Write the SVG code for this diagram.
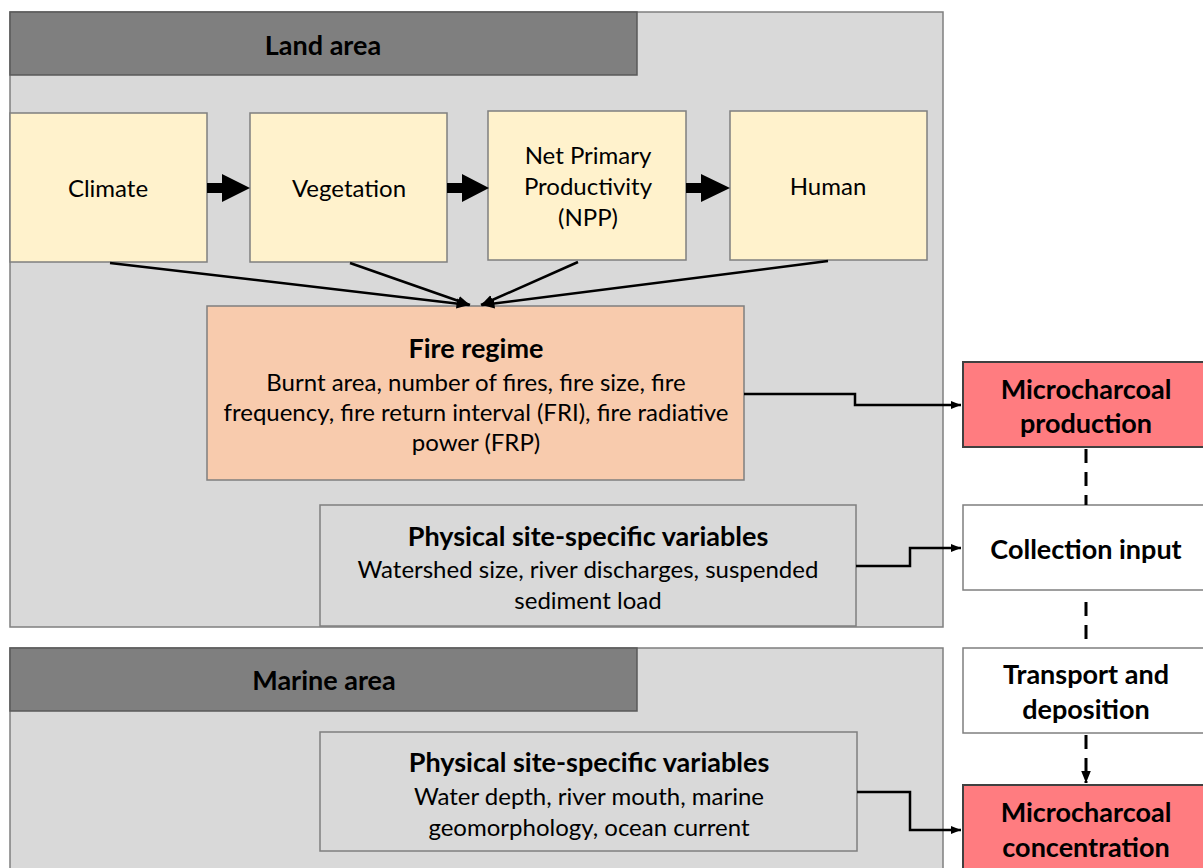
<svg xmlns="http://www.w3.org/2000/svg" width="1203" height="868" viewBox="0 0 1203 868">
<style>
text{font-family:Lato,"Open Sans","Liberation Sans",sans-serif;fill:#000;text-anchor:middle}
.panel{fill:#d9d9d9;stroke:#7f7f7f;stroke-width:1.5}
.head{fill:#7f7f7f;stroke:#595959;stroke-width:1.5}
.yel{fill:#fff2cc;stroke:#7f7f7f;stroke-width:1.5}
.fire{fill:#f8cbad;stroke:#7f7f7f;stroke-width:1.5}
.grey{fill:#d9d9d9;stroke:#7f7f7f;stroke-width:1.5}
.red{fill:#ff7c80;stroke:#404040;stroke-width:2}
.wht{fill:#ffffff;stroke:#7f7f7f;stroke-width:1.5}
.t{font-size:24px}
.b{font-size:27px;font-weight:bold}
.h{font-size:27px;font-weight:bold}
.c{fill:none;stroke:#000;stroke-width:2.5}
.d{fill:none;stroke:#000;stroke-width:3;stroke-dasharray:14 9}
</style>
<defs>
<marker id="ah" viewBox="0 0 10 10" refX="10" refY="5" markerWidth="5" markerHeight="5" orient="auto" markerUnits="strokeWidth">
<path d="M0,1 L10,5 L0,9 z" fill="#000"/>
</marker>
<marker id="ah2" viewBox="0 0 10 10" refX="10" refY="5" markerWidth="4" markerHeight="4" orient="auto" markerUnits="strokeWidth">
<path d="M0,1 L10,5 L0,9 z" fill="#000"/>
</marker>
</defs>

<g id="land-area">
<rect class="panel" x="10" y="12" width="933" height="615"/>
<rect class="head" x="10" y="12" width="627" height="63"/>
<text class="h" x="323" y="55">Land area</text>
</g>

<g id="marine-area">
<rect class="panel" x="10" y="648" width="933" height="230"/>
<rect class="head" x="10" y="648" width="627" height="63"/>
<text class="h" x="324" y="690">Marine area</text>
</g>

<g id="climate">
<rect class="yel" x="10" y="113" width="197" height="149"/>
<text class="t" x="108" y="197">Climate</text>
</g>
<g id="vegetation">
<rect class="yel" x="250" y="113" width="197" height="149"/>
<text class="t" x="349" y="197">Vegetation</text>
</g>
<g id="npp">
<rect class="yel" x="488" y="111" width="198" height="149"/>
<text class="t" x="588" y="164">Net Primary</text>
<text class="t" x="588" y="195">Productivity</text>
<text class="t" x="588" y="226">(NPP)</text>
</g>
<g id="human">
<rect class="yel" x="730" y="111" width="197" height="149"/>
<text class="t" x="828" y="195">Human</text>
</g>

<g id="fire-regime">
<rect class="fire" x="207" y="306" width="537" height="174"/>
<text class="b" x="476" y="358">Fire regime</text>
<text class="t" x="476" y="391">Burnt area, number of fires, fire size, fire</text>
<text class="t" x="476" y="421">frequency, fire return interval (FRI), fire radiative</text>
<text class="t" x="476" y="451">power (FRP)</text>
</g>

<g id="land-physical">
<rect class="grey" x="320" y="505" width="536" height="121"/>
<text class="b" x="588" y="546">Physical site-specific variables</text>
<text class="t" x="588" y="578">Watershed size, river discharges, suspended</text>
<text class="t" x="588" y="609">sediment load</text>
</g>

<g id="marine-physical">
<rect class="grey" x="320" y="732" width="537" height="119"/>
<text class="b" x="589" y="772">Physical site-specific variables</text>
<text class="t" x="589" y="805">Water depth, river mouth, marine</text>
<text class="t" x="589" y="836">geomorphology, ocean current</text>
</g>

<g id="microcharcoal-production">
<rect class="red" x="963" y="362" width="245" height="85"/>
<text class="b" x="1086" y="399">Microcharcoal</text>
<text class="b" x="1086" y="433">production</text>
</g>

<g id="collection-input">
<rect class="wht" x="963" y="505" width="245" height="85"/>
<text class="b" x="1086" y="559">Collection input</text>
</g>

<g id="transport-deposition">
<rect class="wht" x="963" y="648" width="245" height="85"/>
<text class="b" x="1086" y="684">Transport and</text>
<text class="b" x="1086" y="719">deposition</text>
</g>

<g id="microcharcoal-concentration">
<rect class="red" x="963" y="785" width="245" height="95"/>
<text class="b" x="1086" y="822">Microcharcoal</text>
<text class="b" x="1086" y="857">concentration</text>
</g>

<g id="connectors">
<path d="M207,183 H222 V174 L250,188 L222,202 V193 H207 z" fill="#000"/>
<path d="M447,183 H462 V174 L489,188 L462,202 V193 H447 z" fill="#000"/>
<path d="M686,183 H701 V174 L730,188 L701,202 V193 H686 z" fill="#000"/>
<line class="c" x1="110" y1="263" x2="469" y2="305" marker-end="url(#ah)"/>
<line class="c" x1="350" y1="263" x2="470" y2="305" marker-end="url(#ah)"/>
<line class="c" x1="578" y1="262" x2="481" y2="305" marker-end="url(#ah)"/>
<line class="c" x1="828" y1="261" x2="482" y2="305" marker-end="url(#ah)"/>
<path class="c" d="M744,394 H855 V405 H961" marker-end="url(#ah2)"/>
<path class="c" d="M856,566 H910 V548 H961" marker-end="url(#ah2)"/>
<path class="c" d="M857,792 H910 V830 H961" marker-end="url(#ah2)"/>
<line class="d" x1="1086" y1="449" x2="1086" y2="505"/>
<line class="d" x1="1086" y1="602" x2="1086" y2="648"/>
<line class="d" x1="1086" y1="735" x2="1086" y2="783" marker-end="url(#ah2)"/>
</g>
</svg>
